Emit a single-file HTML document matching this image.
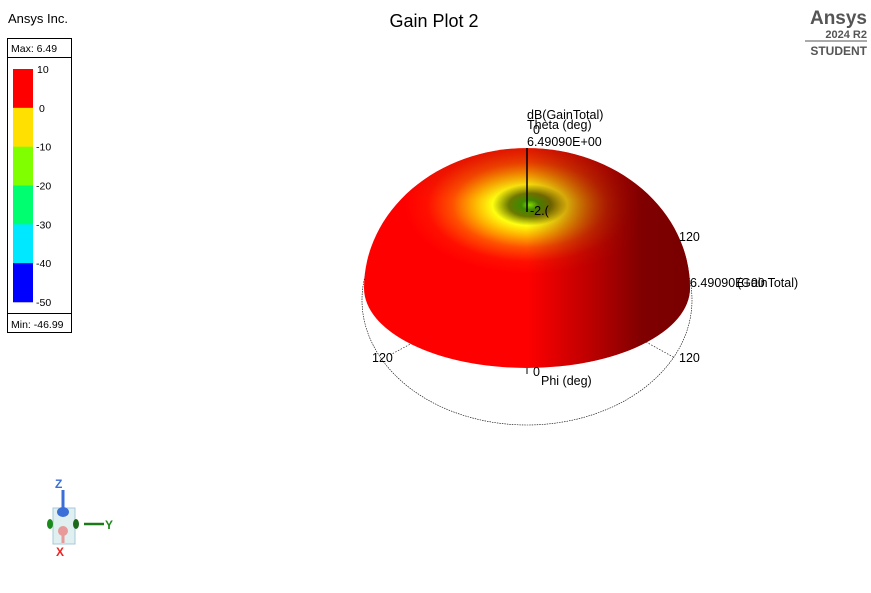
<!DOCTYPE html>
<html><head><meta charset="utf-8"><style>
body{margin:0;background:#fff;font-family:"Liberation Sans",Arial,sans-serif;}
svg text{font-family:"Liberation Sans",Arial,sans-serif;}
</style></head><body>
<svg id="chart" width="871" height="588" viewBox="0 0 871 588" xmlns="http://www.w3.org/2000/svg">
<defs>
  <clipPath id="domeClip"><path d="M364,288 A163,140 0 0 1 690,288 A163,80 0 0 1 364,288 Z"/></clipPath>
  <radialGradient id="hole" cx="530" cy="205" r="125" gradientUnits="userSpaceOnUse" gradientTransform="translate(530 205) scale(1 0.55) translate(-530 -205)">
    <stop offset="0" stop-color="#80e000"/>
    <stop offset="0.07" stop-color="#3f8a00"/>
    <stop offset="0.17" stop-color="#6a7a00"/>
    <stop offset="0.3" stop-color="#ffff10"/>
    <stop offset="0.45" stop-color="#ffb000"/>
    <stop offset="0.62" stop-color="#ff5000"/>
    <stop offset="0.82" stop-color="#ff1000"/>
    <stop offset="1" stop-color="#ff0000"/>
  </radialGradient>
  <linearGradient id="shade" x1="364" y1="0" x2="690" y2="0" gradientUnits="userSpaceOnUse">
    <stop offset="0" stop-color="#800000" stop-opacity="0"/>
    <stop offset="0.5" stop-color="#800000" stop-opacity="0"/>
    <stop offset="0.72" stop-color="#800000" stop-opacity="0.6"/>
    <stop offset="0.85" stop-color="#800000" stop-opacity="1"/>
    <stop offset="1" stop-color="#780000" stop-opacity="1"/>
  </linearGradient>
  <linearGradient id="topShade" x1="0" y1="148" x2="0" y2="200" gradientUnits="userSpaceOnUse">
    <stop offset="0" stop-color="#c02000" stop-opacity="0.5"/>
    <stop offset="1" stop-color="#c02000" stop-opacity="0"/>
  </linearGradient>
</defs>
<text x="8" y="23" font-size="13" fill="#000">Ansys Inc.</text>
<text x="434" y="27" font-size="18" text-anchor="middle">Gain Plot 2</text>
<g>
<text x="867" y="24" font-size="19" font-weight="bold" fill="#555" text-anchor="end">Ansys</text>
<text x="867" y="38" font-size="11" font-weight="bold" fill="#555" text-anchor="end">2024 R2</text>
<line x1="805" y1="41" x2="867" y2="41" stroke="#555" stroke-width="1"/>
<text x="867" y="55" font-size="12" font-weight="bold" fill="#555" text-anchor="end">STUDENT</text>
</g>
<g id="legend">
<rect x="7.5" y="38.5" width="64" height="294" fill="#fff" stroke="#000"/>
<line x1="7.5" y1="57.5" x2="71.5" y2="57.5" stroke="#000"/>
<line x1="7.5" y1="313.5" x2="71.5" y2="313.5" stroke="#000"/>
<text x="11" y="52" font-size="10.5">Max: 6.49</text>
<text x="11" y="328" font-size="10.5">Min: -46.99</text>
</g>
<g>
<ellipse cx="527" cy="300" rx="165" ry="125" fill="none" stroke="#000" stroke-width="0.6" stroke-dasharray="1.5,1"/>
<line x1="390" y1="355" x2="418" y2="340" stroke="#000" stroke-width="0.6" stroke-dasharray="1.5,1.5"/>
<line x1="646" y1="342" x2="675" y2="358" stroke="#000" stroke-width="0.6" stroke-dasharray="1.5,1.5"/>
</g>
<g clip-path="url(#domeClip)">
<rect x="360" y="140" width="340" height="240" fill="url(#hole)"/>
<rect x="360" y="140" width="340" height="240" fill="url(#topShade)"/>
<rect x="360" y="140" width="340" height="240" fill="url(#shade)"/>
</g>
<g font-size="12.5">
<line x1="527" y1="148" x2="527" y2="212" stroke="#000" stroke-width="1.5"/>
<text x="527" y="119">dB(GainTotal)</text>
<text x="527" y="129">Theta (deg)</text>
<text x="533" y="134">0</text>
<text x="527" y="146">6.49090E+00</text>
<text x="530" y="215" fill="#000">-2.(</text>
<text x="679" y="241">120</text>
<text x="690" y="287">6.49090E+00</text>
<text x="737" y="287">(GainTotal)</text>
<text x="372" y="362">120</text>
<text x="679" y="362">120</text>
<text x="533" y="376">0</text>
<text x="541" y="385">Phi (deg)</text>
<line x1="527" y1="368" x2="527" y2="374" stroke="#000"/>
</g>
<g>
<rect x="53" y="508" width="22" height="36" fill="#e0f0f0" stroke="#a8c8d8"/>
<line x1="63" y1="490" x2="63" y2="510" stroke="#3a6fd8" stroke-width="3"/>
<ellipse cx="63" cy="512" rx="6" ry="5" fill="#3a6fd8"/>
<ellipse cx="50" cy="524" rx="3" ry="5" fill="#1a8a1a"/>
<ellipse cx="76" cy="524" rx="3" ry="5" fill="#1a6a1a"/>
<line x1="84" y1="524" x2="104" y2="524" stroke="#1a7a1a" stroke-width="2.5"/>
<ellipse cx="63" cy="531" rx="5" ry="5" fill="#e89a9a"/>
<line x1="63" y1="535" x2="63" y2="543" stroke="#e89a9a" stroke-width="3"/>
<text x="55" y="488" font-size="12" font-weight="bold" fill="#3a6fd8">Z</text>
<text x="105" y="529" font-size="12" font-weight="bold" fill="#1a8a1a">Y</text>
<text x="56" y="556" font-size="12" font-weight="bold" fill="#ee2222">X</text>
</g>
<script>
const legendTicks = ["10","0","-10","-20","-30","-40","-50"];
const legendColors = ["#ff0000","#ffe000","#80ff00","#00ff70","#00e8ff","#0000ff"];
const svgNS = "http://www.w3.org/2000/svg";
const lg = document.getElementById("legend");
const top0 = 69, bot0 = 302, bx = 13, bw = 20;
const step = (bot0 - top0) / legendColors.length;
legendColors.forEach((c, i) => {
  const r = document.createElementNS(svgNS, "rect");
  r.setAttribute("x", bx); r.setAttribute("y", top0 + i * step);
  r.setAttribute("width", bw); r.setAttribute("height", step + 0.3);
  r.setAttribute("fill", c);
  
  
  lg.appendChild(r);
});
legendTicks.forEach((t, i) => {
  const tx = document.createElementNS(svgNS, "text");
  tx.setAttribute("x", t === "0" || t === "10" ? (t === "0" ? 39 : 37) : 36);
  tx.setAttribute("y", top0 + i * step + 4);
  tx.setAttribute("font-size", "10.5");
  tx.textContent = t;
  
  
  lg.appendChild(tx);
});
</script>
</svg>
</body></html>
